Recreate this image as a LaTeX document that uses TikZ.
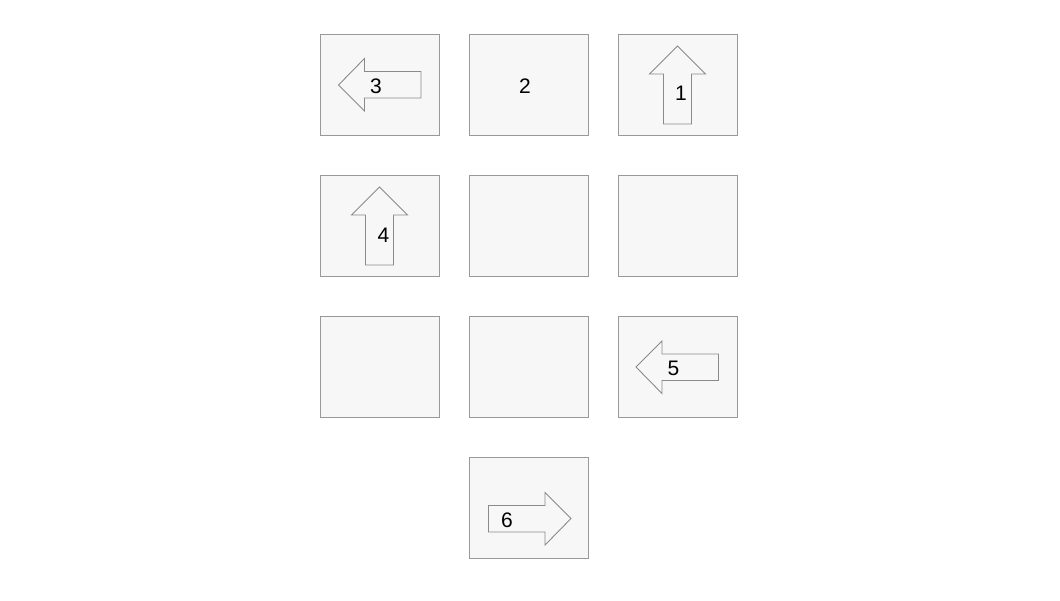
\documentclass[tikz,border=0pt]{standalone}
\usepackage{fontspec}
\setmainfont{Liberation Sans}
\definecolor{boxfill}{HTML}{F7F7F7}
\definecolor{boxline}{HTML}{999999}
\definecolor{arrline}{HTML}{8A8A8A}
\begin{document}
\begin{tikzpicture}[x=1pt,y=-1pt,
  cell/.style={draw=boxline,fill=boxfill,line width=1.1pt,minimum width=119pt,minimum height=101pt,inner sep=0pt,anchor=north west},
  bigarrow/.style={draw=arrline,fill=boxfill,line width=0.9pt,line join=miter},
  lbl/.style={font=\fontsize{21}{21}\selectfont,inner sep=0pt,text=black}]
\useasboundingbox (0,0) rectangle (1060,600);
% boxes
\node[cell] (b11) at (320,34) {};
\node[cell] (b12) at (469,34) {};
\node[cell] (b13) at (618,34) {};
\node[cell] (b21) at (320,175) {};
\node[cell] (b22) at (469,175) {};
\node[cell] (b23) at (618,175) {};
\node[cell] (b31) at (320,316) {};
\node[cell] (b32) at (469,316) {};
\node[cell] (b33) at (618,316) {};
\node[cell] (b42) at (469,457) {};
% arrow 3 (left)
\draw[bigarrow] (338.5,85) -- (364.5,58.5) -- (364.5,71.5) -- (421,71.5) -- (421,98) -- (364.5,98) -- (364.5,111) -- cycle;
% arrow 1 (up)
\draw[bigarrow] (677.5,46) -- (705.5,74) -- (691.5,74) -- (691.5,124) -- (663.5,124) -- (663.5,74) -- (649.5,74) -- cycle;
% arrow 4 (up)
\draw[bigarrow] (379.5,187) -- (407.5,215) -- (393.5,215) -- (393.5,265) -- (365.5,265) -- (365.5,215) -- (351.5,215) -- cycle;
% arrow 5 (left)
\draw[bigarrow] (636,367) -- (662,341) -- (662,354) -- (718.5,354) -- (718.5,380.5) -- (662,380.5) -- (662,393.5) -- cycle;
% arrow 6 (right)
\draw[bigarrow] (571,518.5) -- (545,492.5) -- (545,505.5) -- (488.5,505.5) -- (488.5,532) -- (545,532) -- (545,545) -- cycle;
% labels
\node[lbl] (t3) at (376,86) {3};
\node[lbl] (t2) at (525,86) {2};
\node[lbl] (t1) at (681,93.5) {1};
\node[lbl] (t4) at (383.5,235) {4};
\node[lbl] (t5) at (673.5,368) {5};
\node[lbl] (t6) at (507,520) {6};
\end{tikzpicture}
\end{document}
